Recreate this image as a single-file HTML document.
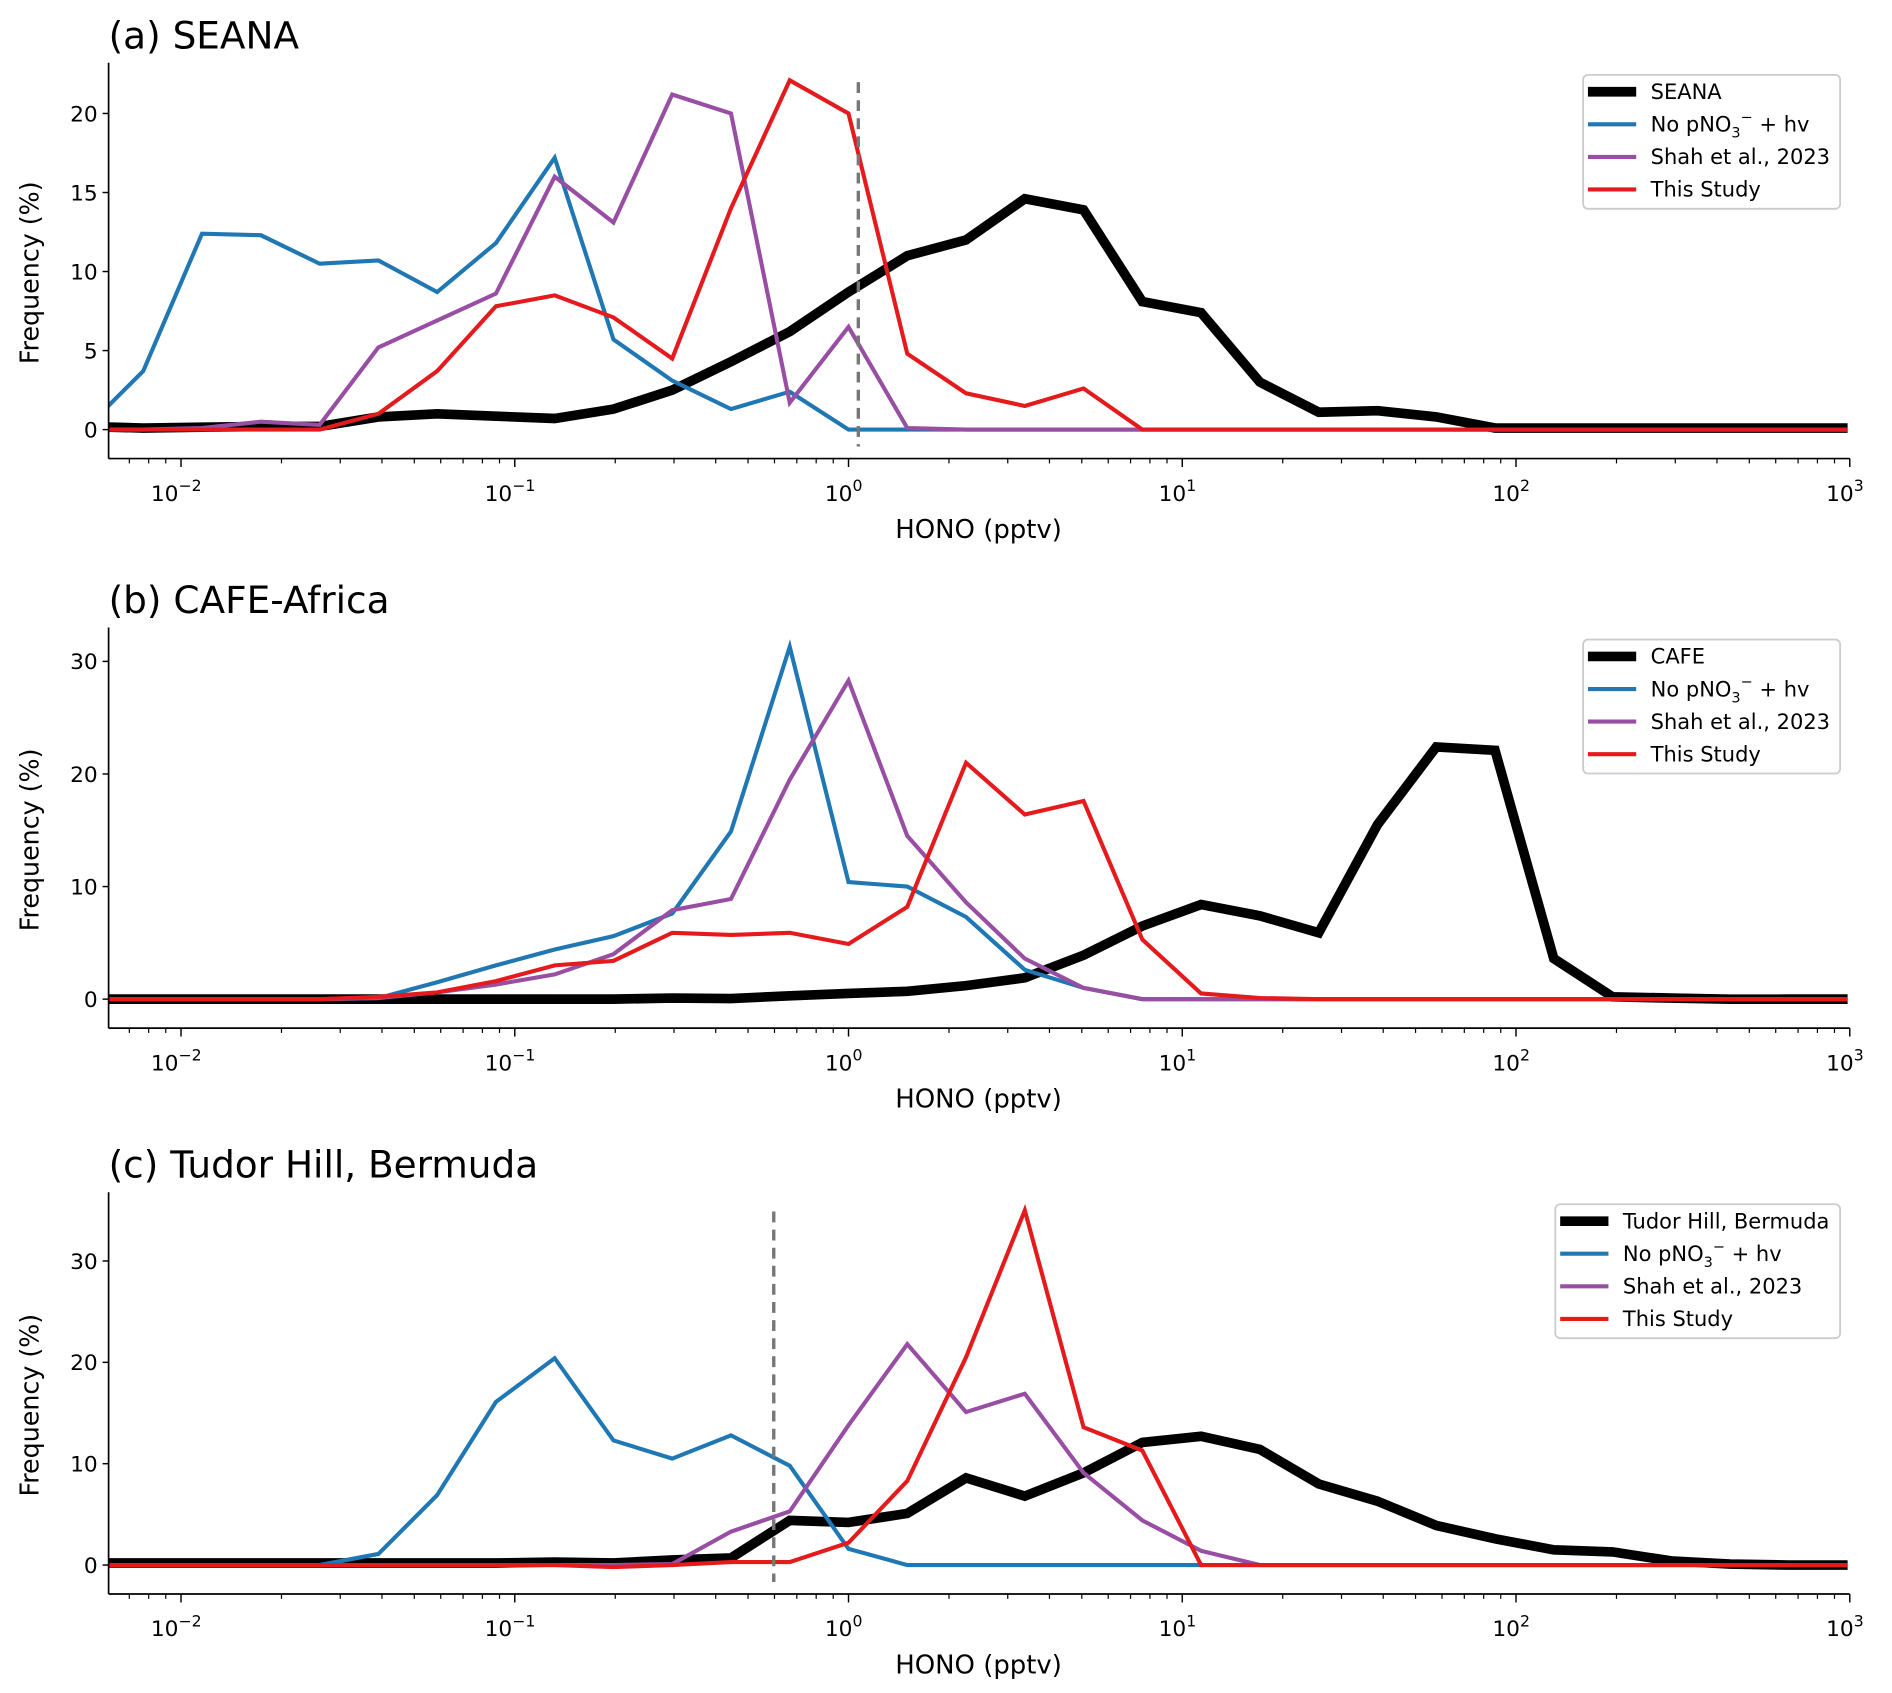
<!DOCTYPE html>
<html><head><meta charset="utf-8"><style>
html,body{margin:0;padding:0;background:#fff;}
svg{display:block;font-family:"DejaVu Sans","Liberation Sans",sans-serif;}
</style></head><body>
<svg id="fig" width="1892" height="1693" viewBox="0 0 1568 1403" xmlns="http://www.w3.org/2000/svg"></svg>
<script>
// bin index k -> HONO value = 1.5^k, k from -13 to 17
const binK = [-13,-12,-11,-10,-9,-8,-7,-6,-5,-4,-3,-2,-1,0,1,2,3,4,5,6,7,8,9,10,11,12,13,14,15,16,17];
const seriesNames = ["black","blue","purple","red"];
const legendA = ["SEANA","No pNO3 + hv","Shah et al., 2023","This Study"];
const legendB = ["CAFE","No pNO3 + hv","Shah et al., 2023","This Study"];
const legendC = ["Tudor Hill, Bermuda","No pNO3 + hv","Shah et al., 2023","This Study"];
const seanaObs   = [0.2,0.1,0.15,0.2,0.2,0.8,1.0,0.85,0.7,1.3,2.5,4.3,6.2,8.7,11.0,12.0,14.6,13.9,8.1,7.4,3.0,1.1,1.2,0.8,0.1,0.1,0.1,0.1,0.1,0.1,0.1];
const seanaBlue  = [0,3.7,12.4,12.3,10.5,10.7,8.7,11.8,17.2,5.7,3.1,1.3,2.4,0,0,0,0,0,0,0,0,0,0,0,0,0,0,0,0,0,0];
const seanaPurp  = [0,0,0.1,0.5,0.3,5.2,6.9,8.6,16.0,13.1,21.2,20.0,1.7,6.5,0.1,0,0,0,0,0,0,0,0,0,0,0,0,0,0,0,0];
const seanaRed   = [0,0,0,0,0,1.0,3.7,7.8,8.5,7.1,4.5,14.0,22.1,20.0,4.8,2.3,1.5,2.6,0,0,0,0,0,0,0,0,0,0,0,0,0];
const cafeObs    = [0,0,0,0,0,0,0,0,0,0,0.1,0.05,0.3,0.5,0.7,1.2,1.9,3.9,6.5,8.4,7.4,5.9,15.5,22.4,22.1,3.6,0.2,0.1,0,0,0];
const cafeBlue   = [0,0,0,0,0,0.1,1.5,3.0,4.4,5.6,7.6,14.9,31.3,10.4,10.0,7.3,2.6,1.0,0,0,0,0,0,0,0,0,0,0,0,0,0];
const cafePurp   = [0,0,0,0,0,0.1,0.6,1.3,2.2,4.0,7.9,8.9,19.5,28.3,14.5,8.6,3.6,1.0,0,0,0,0,0,0,0,0,0,0,0,0,0];
const cafeRed    = [0,0,0,0,0,0.2,0.6,1.6,3.0,3.4,5.9,5.7,5.9,4.9,8.2,21.0,16.4,17.6,5.3,0.5,0.1,0,0,0,0,0,0,0,0,0,0];
const thObs      = [0.2,0.2,0.2,0.2,0.2,0.2,0.2,0.2,0.3,0.2,0.5,0.7,4.4,4.2,5.1,8.6,6.8,9.1,12.1,12.7,11.4,8.0,6.3,3.9,2.6,1.5,1.3,0.4,0.1,0,0];
const thBlue     = [0,0,0,0,0,1.1,6.9,16.1,20.4,12.3,10.5,12.8,9.8,1.6,0,0,0,0,0,0,0,0,0,0,0,0,0,0,0,0,0];
const thPurp     = [0,0,0,0,0,0,0,0,0,0,0.1,3.3,5.3,13.8,21.8,15.1,16.9,9.1,4.4,1.4,0,0,0,0,0,0,0,0,0,0,0];
const thRed      = [0,0,0,0,0,0,0,0,0,-0.2,0,0.3,0.3,2.2,8.3,20.5,35.0,13.6,11.3,0,0,0,0,0,0,0,0,0,0,0,0];
const yTicksA = [0,5,10,15,20];
const yTicksBC = [0,10,20,30];
const xTickExp = [-2,-1,0,1,2,3];
const dashA = 1.07, dashC = 0.597;

const svg = document.getElementById('fig');
const NS = 'http://www.w3.org/2000/svg';
function mk(tag, attrs, parent){const e=document.createElementNS(NS,tag);for(const k in attrs)e.setAttribute(k,attrs[k]);(parent||svg).appendChild(e);return e;}
const colors = {black:'#000',blue:'#1f77b4',purple:'#984ea3',red:'#e41a1c'};
const X0=90, X1=1533, LOGMIN=-2.217, LOGMAX=3;
function xs(v){return X0+(Math.log10(v)-LOGMIN)/(LOGMAX-LOGMIN)*(X1-X0);}

function panel(id, title, top, bottom, y0px, pxPerUnit, yTicks, series, legend, legX, dash){
  const g = mk('g',{});
  
  
  const ys = v => y0px - v*pxPerUnit;
  const t = mk('text',{x:90,y:top-12,'font-size':31,fill:'#000'},g); t.textContent=title;
  
  
  const cid='clip-'+id;
  const cp=mk('clipPath',{id:cid},g); mk('rect',{x:X0,y:top,width:X1-X0,height:bottom-top},cp);
  const pg=mk('g',{'clip-path':'url(#'+cid+')'},g);
  const widths=[8,3.4,3.4,3.4];
  series.forEach((arr,i)=>{
    const pts=arr.map((v,j)=>xs(Math.pow(1.5,binK[j])).toFixed(1)+','+ys(v).toFixed(1)).join(' ');
    const p=mk('polyline',{points:pts,fill:'none',stroke:colors[seriesNames[i]],'stroke-width':widths[i],'stroke-linejoin':'miter'},pg);
    
    
  });
  if(dash){
    const d=mk('line',{x1:xs(dash),x2:xs(dash),y1:top+16,y2:bottom-10,stroke:'#777','stroke-width':2.8,'stroke-dasharray':'9,6'},g);
    
    
  }
  mk('line',{x1:X0,x2:X0,y1:top,y2:bottom,stroke:'#000','stroke-width':1.4},g);
  mk('line',{x1:X0,x2:X1,y1:bottom,y2:bottom,stroke:'#000','stroke-width':1.4},g);
  yTicks.forEach(v=>{
    mk('line',{x1:X0-5,x2:X0,y1:ys(v),y2:ys(v),stroke:'#000','stroke-width':1.2},g);
    const tt=mk('text',{x:X0-9,y:ys(v)+6.5,'font-size':18,'text-anchor':'end'},g); tt.textContent=v;
    
    
  });
  for(let e=-3;e<3;e++){for(let m=2;m<10;m++){const x=xs(m*Math.pow(10,e));if(x<X0-0.5)continue;
    mk('line',{x1:x,x2:x,y1:bottom,y2:bottom+4,stroke:'#000','stroke-width':1},g);}}
  xTickExp.forEach(e=>{
    const x=xs(Math.pow(10,e));
    mk('line',{x1:x,x2:x,y1:bottom,y2:bottom+7,stroke:'#000','stroke-width':1.2},g);
    const tt=mk('text',{x:x-4,y:bottom+35,'font-size':18,'text-anchor':'middle'},g);
    
    
    tt.appendChild(document.createTextNode('10'));
    const s=mk('tspan',{dy:-8,'font-size':13},tt); s.textContent=(e<0?'\u2212':'')+Math.abs(e);
  });
  const xl=mk('text',{x:811,y:bottom+66,'font-size':21.5,'text-anchor':'middle'},g); xl.textContent='HONO (pptv)';
  
  
  const yc=(top+bottom)/2+10;
  const yl=mk('text',{x:32,y:yc,'font-size':21,'text-anchor':'middle',transform:'rotate(-90 32 '+yc+')'},g); yl.textContent='Frequency (%)';
  
  
  // legend
  const lg=mk('g',{},g);
  
  
  mk('rect',{x:legX,y:top+10,width:1525-legX,height:111,rx:4,fill:'#fff',stroke:'#ccc','stroke-width':1.5},lg);
  legend.forEach((name,i)=>{
    const y=top+24+i*27;
    mk('line',{x1:legX+4,x2:legX+44,y1:y,y2:y,stroke:colors[seriesNames[i]],'stroke-width':i==0?8:3.4},lg);
    const tx=mk('text',{x:legX+56,y:y+6,'font-size':17.4},lg);
    
    
    if(name.indexOf('pNO3')>=0){
      tx.appendChild(document.createTextNode('No pNO'));
      const sb=mk('tspan',{dy:5,'font-size':12},tx); sb.textContent='3';
      const sp=mk('tspan',{dy:-13,'font-size':12},tx); sp.textContent='\u2212';
      const r=mk('tspan',{dy:8},tx); r.textContent='  + hv';
    } else tx.textContent=name;
  });
}
panel('panel-a','(a) SEANA',52,380,356,13.1,yTicksA,[seanaObs,seanaBlue,seanaPurp,seanaRed],legendA,1312,dashA);
panel('panel-b','(b) CAFE-Africa',520,852,828,9.33,yTicksBC,[cafeObs,cafeBlue,cafePurp,cafeRed],legendB,1312,null);
panel('panel-c','(c) Tudor Hill, Bermuda',988,1321,1297,8.4,yTicksBC,[thObs,thBlue,thPurp,thRed],legendC,1289,dashC);
</script>
</body></html>
